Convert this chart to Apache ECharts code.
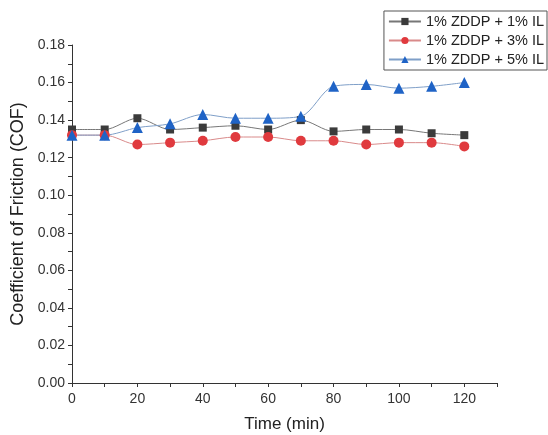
<!DOCTYPE html>
<html>
<head>
<meta charset="utf-8">
<script src="https://cdn.jsdelivr.net/npm/echarts@6/dist/echarts.min.js"></script>
<style>
  html, body { margin: 0; padding: 0; background: #fff; }
  #main { width: 548px; height: 435px; }
</style>
</head>
<body>
<div id="main"></div>
<script>
// 时间点 (min)
var times = [0, 10, 20, 30, 40, 50, 60, 70, 80, 90, 100, 110, 120];

// 三组摩擦系数
var cof1 = [0.135, 0.135, 0.141, 0.135, 0.136, 0.137, 0.135, 0.140, 0.134, 0.135, 0.135, 0.133, 0.132];
var cof3 = [0.132, 0.132, 0.127, 0.128, 0.129, 0.131, 0.131, 0.129, 0.129, 0.127, 0.128, 0.128, 0.126];
var cof5 = [0.132, 0.132, 0.136, 0.138, 0.143, 0.141, 0.141, 0.142, 0.158, 0.159, 0.157, 0.158, 0.160];

var names = ['1% ZDDP + 1% IL', '1% ZDDP + 3% IL', '1% ZDDP + 5% IL'];
var xLabels = [0, 20, 40, 60, 80, 100, 120];
var yLabels = [0, 0.02, 0.04, 0.06, 0.08, 0.10, 0.12, 0.14, 0.16, 0.18];

function pairs(ys) {
  return times.map(function (t, i) { return [t, ys[i]]; });
}

function makeSeries(name, ys, symbol, size, color, lineColor) {
  return {
    name: name,
    type: 'line',
    data: pairs(ys),
    smooth: 0.3,
    symbol: symbol,
    symbolSize: size,
    itemStyle: { color: color },
    lineStyle: { color: lineColor, width: 1 }
  };
}

var chart = echarts.init(document.getElementById('main'));

chart.setOption({
  animation: false,
  textStyle: { fontFamily: 'Liberation Sans, Arial, sans-serif' },
  grid: { left: 72, right: 51, top: 45, bottom: 52, outerBoundsMode: 'none' },
  legend: {
    orient: 'vertical',
    right: 1,
    top: 11,
    itemGap: 4,
    itemWidth: 32,
    itemHeight: 9,
    padding: [3, 3, 3, 4],
    borderColor: '#555',
    borderWidth: 1,
    textStyle: { fontSize: 14.5, color: '#222' },
    data: names
  },
  xAxis: {
    type: 'value',
    min: 0,
    max: 130,
    interval: 10,
    name: 'Time (min)',
    nameLocation: 'middle',
    nameGap: 33,
    nameTextStyle: { fontSize: 17, color: '#222' },
    axisLine: { lineStyle: { color: '#333', width: 1 } },
    axisTick: { show: true, length: 4, lineStyle: { color: '#333' } },
    axisLabel: {
      fontSize: 14,
      color: '#333',
      margin: 9,
      customValues: xLabels
    },
    splitLine: { show: false }
  },
  yAxis: {
    type: 'value',
    min: 0,
    max: 0.18,
    interval: 0.01,
    name: 'Coefficient of Friction (COF)',
    nameLocation: 'middle',
    nameGap: 45,
    nameTextStyle: { fontSize: 18, color: '#222' },
    axisLine: { show: true, lineStyle: { color: '#333', width: 1 } },
    axisTick: { show: true, length: 4, lineStyle: { color: '#333' } },
    axisLabel: {
      fontSize: 14,
      color: '#333',
      margin: 7,
      customValues: yLabels,
      formatter: function (v) { return v.toFixed(2); }
    },
    splitLine: { show: false }
  },
  series: [
    makeSeries(names[0], cof1, 'rect', 8, '#3b3b3b', '#777'),
    makeSeries(names[1], cof3, 'circle', 10, '#e03a3e', '#d98a8a'),
    makeSeries(names[2], cof5, 'triangle', 11, '#1f63c6', '#7f9fc8')
  ]
});
</script>
</body>
</html>
